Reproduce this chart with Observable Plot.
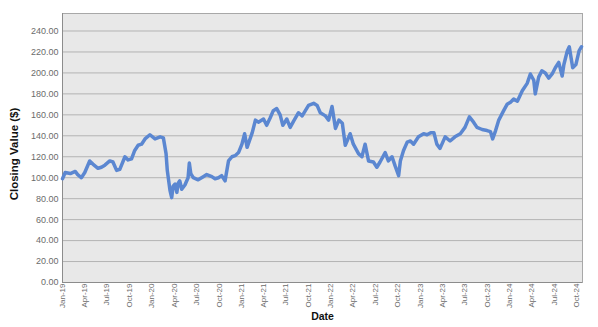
<!DOCTYPE html>
<html>
<head>
<meta charset="utf-8">
<script src="https://cdn.jsdelivr.net/npm/d3@7"></script>
<script src="https://cdn.jsdelivr.net/npm/@observablehq/plot@0.6"></script>
<style>
  html, body { margin: 0; padding: 0; background: #ffffff; }
  #chart svg { display: block; }
</style>
</head>
<body>
<div id="chart"></div>
<script>
const dates = [
  "2019-01-01","2019-01-12","2019-02-02","2019-02-22","2019-03-04","2019-03-19","2019-04-02","2019-04-22","2019-05-05","2019-05-26",
  "2019-06-09","2019-06-23","2019-07-13","2019-07-26","2019-08-10","2019-08-23","2019-09-13","2019-09-26","2019-10-10","2019-10-23",
  "2019-11-06","2019-11-20","2019-12-04","2019-12-24","2020-01-14","2020-02-04","2020-02-17","2020-02-28","2020-03-04","2020-03-15",
  "2020-03-22","2020-03-28","2020-04-05","2020-04-12","2020-04-18","2020-04-24","2020-05-02","2020-05-15","2020-05-28","2020-06-02",
  "2020-06-08","2020-06-18","2020-07-08","2020-07-29","2020-08-12","2020-09-02","2020-09-15","2020-09-29","2020-10-12","2020-10-26",
  "2020-11-09","2020-11-23","2020-12-06","2020-12-20","2021-01-03","2021-01-14","2021-01-24","2021-02-14","2021-02-27","2021-03-11",
  "2021-04-01","2021-04-14","2021-04-28","2021-05-11","2021-05-25","2021-06-08","2021-06-19","2021-07-05","2021-07-19","2021-08-02",
  "2021-08-22","2021-09-06","2021-09-19","2021-10-02","2021-10-23","2021-11-06","2021-11-19","2021-12-10","2021-12-23","2022-01-06",
  "2022-01-20","2022-02-03","2022-02-17","2022-03-01","2022-03-21","2022-04-03","2022-04-24","2022-05-08","2022-05-21","2022-06-04",
  "2022-06-24","2022-07-08","2022-07-21","2022-08-11","2022-08-24","2022-09-08","2022-09-21","2022-10-05","2022-10-12","2022-10-25",
  "2022-11-09","2022-11-22","2022-12-05","2022-12-25","2023-01-15","2023-01-29","2023-02-13","2023-02-26","2023-03-10","2023-03-23",
  "2023-04-13","2023-05-03","2023-05-23","2023-06-14","2023-07-03","2023-07-21","2023-08-07","2023-08-21","2023-09-11","2023-10-01",
  "2023-10-15","2023-10-24","2023-11-05","2023-11-18","2023-12-08","2023-12-22","2024-01-05","2024-01-18","2024-02-02","2024-02-22",
  "2024-03-13","2024-03-26","2024-04-09","2024-04-15","2024-04-29","2024-05-12","2024-05-26","2024-06-09","2024-06-23","2024-07-06",
  "2024-07-20","2024-08-03","2024-08-10","2024-08-24","2024-09-01","2024-09-15","2024-09-28","2024-10-11","2024-10-21"
];
const closingValues = [
  99,105,104,106,103,100,105,116,113,109,
  110,112,116,115,107,108,120,117,118,126,
  131,132,137,141,137,139,138,123,107,88,
  81,92,94,86,95,97,89,93,100,114,
  104,100,98,101,103,101,99,100,102,97,
  116,120,121,124,132,142,129,143,155,153,
  156,150,157,164,166,160,150,156,148,154,
  162,159,164,169,171,169,162,159,155,168,
  147,155,152,131,142,132,123,120,132,116,
  115,110,115,124,116,120,111,102,116,126,
  134,135,132,139,142,141,143,143,132,128,
  139,135,139,142,148,158,153,148,146,145,
  144,137,145,155,164,170,172,175,173,183,
  190,199,193,180,196,202,200,195,199,205,
  210,197,208,221,225,205,208,221,225
];
const yTicks = [0,20,40,60,80,100,120,140,160,180,200,220,240];
const xStart = "2019-01-01";
const xEnd = "2024-10-25";
const yTitle = "Closing Value ($)";
const xTitle = "Date";

const parse = d3.utcParse("%Y-%m-%d");
const rows = dates.map((d, i) => ({date: parse(d), value: closingValues[i]}));
const xTicks = d3.utcMonth.every(3).range(parse(xStart), d3.utcDay.offset(parse(xEnd), 1));
const fmt = d3.utcFormat("%b-%y");

const chart = Plot.plot({
  width: 598,
  height: 327,
  marginLeft: 62,
  marginRight: 16,
  marginTop: 13,
  marginBottom: 45,
  style: {fontFamily: "'Liberation Sans', Arial, sans-serif", background: "#ffffff", overflow: "visible"},
  x: {type: "utc", domain: [parse(xStart), parse(xEnd)]},
  y: {domain: [0, 256.7]},
  marks: [
    Plot.frame({fill: "#e8e8e8", stroke: "#a8a8a8"}),
    Plot.gridY(yTicks, {stroke: "#b3b3b3", strokeOpacity: 1, strokeWidth: 1}),
    Plot.ruleX([parse(xStart)], {stroke: "#8c8c8c"}),
    Plot.ruleY([0], {stroke: "#8c8c8c"}),
    Plot.axisY(yTicks, {tickSize: 0, tickPadding: 4, tickFormat: d => d.toFixed(2), fontSize: 9, fill: "#6b6b6b", label: null}),
    Plot.axisX(xTicks, {tickSize: 0, tickPadding: 1, tickRotate: -90, tickFormat: fmt, fontSize: 8, fill: "#6b6b6b", label: null}),
    Plot.lineY(rows, {x: "date", y: "value", stroke: "#5b87d1", strokeWidth: 3.5, strokeLinejoin: "round", strokeLinecap: "round"}),
    Plot.text([yTitle], {frameAnchor: "left", dx: -48, dy: 6, rotate: -90, textAnchor: "middle", lineAnchor: "middle", fontWeight: "bold", fontSize: 11.5, fill: "#111"}),
    Plot.text([xTitle], {frameAnchor: "bottom", dy: 34, textAnchor: "middle", lineAnchor: "middle", fontWeight: "bold", fontSize: 10.5, fill: "#111"})
  ]
});
document.getElementById("chart").appendChild(chart);
</script>
</body>
</html>
